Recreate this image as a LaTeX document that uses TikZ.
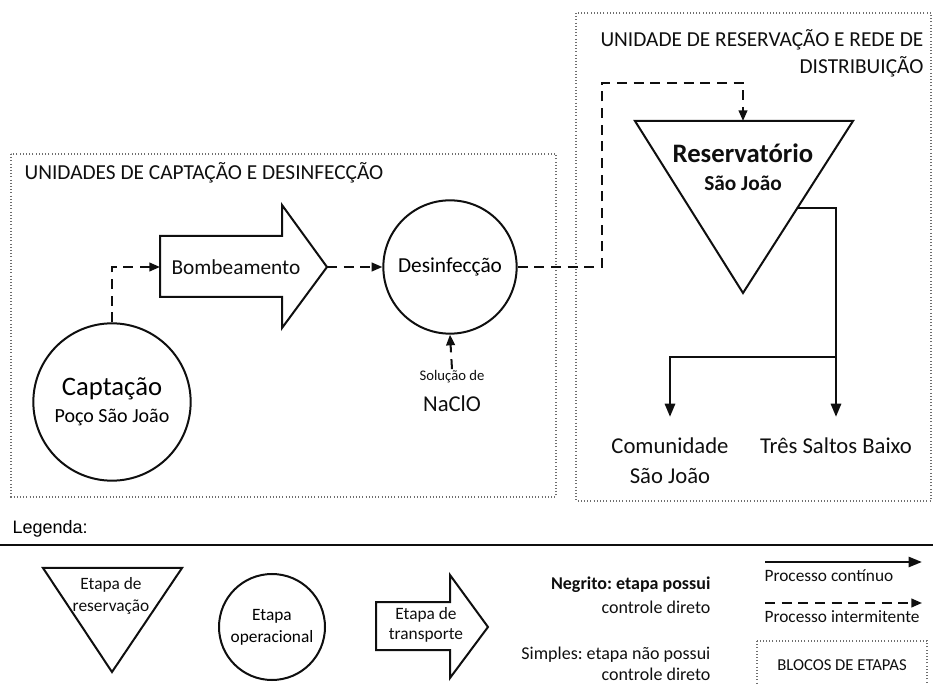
\documentclass[tikz,border=0pt]{standalone}
\usepackage{fontspec}
\setmainfont{Carlito}
\newfontfamily\arialfont{Liberation Sans}
\usepackage{tikz}
\usetikzlibrary{positioning, arrows.meta, calc}
\frenchspacing
\definecolor{traco}{RGB}{15, 15, 15}
\definecolor{pontilhado}{RGB}{110, 110, 110}
\tikzset{
    oper/.style={draw=traco, circle, line width=1.5pt, inner sep=0pt, align=center},
    rotulo/.style={inner sep=1pt, align=center, text=traco},
    forma/.style={draw=traco, line width=1.5pt, line join=miter},
    bloco/.style={draw=pontilhado, line width=0.8pt, dash pattern=on 0.8pt off 1.6pt},
    cont/.style={-{Triangle[length=10pt, width=7.5pt]}, draw=traco, line width=2.2pt},
    interm/.style={-{Triangle[length=8pt, width=6.5pt]}, draw=traco, line width=1.5pt, dash pattern=on 7.5pt off 5pt},
}
\begin{document}
\begin{tikzpicture}[x=0.75pt, y=-0.75pt]
        \useasboundingbox (0,0) rectangle (933,684);

        % blocos de etapas
        \draw[bloco] (11,154) rectangle (556,497);
        \draw[bloco] (576,13) rectangle (931,501);
        \node[rotulo, anchor=west, font=\fontsize{16}{20}\selectfont] (tit1) at (23,173) {UNIDADES DE CAPTAÇÃO E DESINFECÇÃO};
        \node[rotulo, anchor=east, align=right, font=\fontsize{16}{20}\selectfont] (tit2) at (925,53) {UNIDADE DE RESERVAÇÃO E REDE DE\\DISTRIBUIÇÃO};

        % captacao e bombeamento
        \node[oper, minimum size=118pt] (capt) at (112,402) {\fontsize{20}{24}\selectfont Captação\\[6pt]\fontsize{15}{18}\selectfont Poço São João};
        \coordinate (bomb-cauda) at (160,267);
        \coordinate (bomb-ponta) at (327,267);
        \draw[forma] (160,236) -- (282,236) -- (282,205) -- (bomb-ponta) -- (282,328) -- (282,297) -- (160,297) -- cycle;
        \node[rotulo, font=\fontsize{16}{19}\selectfont] (bomb) at (236,267) {Bombeamento};

        % desinfeccao
        \node[oper, minimum size=100pt, font=\fontsize{16}{19}\selectfont] (desinf) at (450,267) {Desinfecção};
        \node[rotulo, font=\fontsize{11}{13}\selectfont] (solucao) at (452,377) {Solução de};
        \node[rotulo, font=\fontsize{17}{20}\selectfont] (naclo) at (452,404) {NaClO};

        % reservatorio
        \coordinate (res-e) at (635,121);
        \coordinate (res-d) at (853,121);
        \coordinate (res-v) at (743,293);
        \coordinate (res-topo) at (743,121);
        \draw[forma] (res-e) -- (res-d) -- (res-v) -- cycle;
        \node[rotulo, font=\bfseries\fontsize{20}{24}\selectfont] (res) at (743,153) {Reservatório};
        \node[rotulo, font=\bfseries\fontsize{16}{19}\selectfont] (res-sj) at (743,183) {São João};

        % rede de distribuicao
        \coordinate (res-saida) at ($(res-d)!0.506!(res-v)$);
        \coordinate (ramal) at (836,357);
        \coordinate (com-ent) at (670,417);
        \coordinate (tres-ent) at (836,417);
        \node[rotulo, below=14pt of com-ent, font=\fontsize{17}{22.5}\selectfont] (com) {Comunidade\\São João};
        \node[rotulo, below=14pt of tres-ent, font=\fontsize{17}{20}\selectfont] (tres) {Três Saltos Baixo};

        \draw[cont] (res-saida) -| (tres-ent);
        \draw[cont] (ramal) -| (com-ent);

        \coordinate (curva) at (602,83);
        \draw[interm] (capt.north) |- (bomb-cauda);
        \draw[interm] (bomb-ponta) -- (desinf.west);
        \draw[interm] (solucao.north) -- (desinf.south);
        \draw[interm] (desinf.east) -| (curva) -| (res-topo);

        % legenda
        \node[anchor=west, inner sep=1pt, font=\arialfont\fontsize{13.5}{16}\selectfont] (leg) at (11,529) {Legenda:};
        \coordinate (linha-e) at (0,545);
        \coordinate (linha-d) at (933,545);
        \draw[draw=traco, line width=1.1pt] (linha-e) -- (linha-d);

        \draw[forma] (43,568) -- (182,568) -- (112,672) -- cycle;
        \node[rotulo, font=\fontsize{13}{16.5}\selectfont] (leg-res) at (111,596) {Etapa de\\reservação};
        \node[oper, minimum size=79.5pt, font=\fontsize{13}{16.5}\selectfont] (leg-oper) at (272,627) {Etapa\\operacional};
        \draw[forma] (376,602) -- (450,602) -- (450,575) -- (488,627) -- (450,678) -- (450,650) -- (376,650) -- cycle;
        \node[rotulo, font=\fontsize{13}{15}\selectfont] (leg-transp) at (426,625) {Etapa de\\transporte};

        \node[rotulo, anchor=east, align=right, font=\fontsize{13.5}{18}\selectfont] (negrito) at (712,595) {\bfseries Negrito: etapa possui\\controle direto};
        \node[rotulo, anchor=east, align=right, font=\fontsize{13.5}{15.5}\selectfont] (simples) at (712,664) {Simples: etapa não possui\\controle direto};

        \coordinate (cont-a) at (765,562);
        \coordinate (cont-b) at (922,562);
        \draw[cont, line width=1.8pt] (cont-a) -- (cont-b);
        \node[rotulo, anchor=west, font=\fontsize{13}{15}\selectfont] (leg-cont) at (763,576) {Processo contínuo};
        \coordinate (int-a) at (765,603);
        \coordinate (int-b) at (922,603);
        \draw[interm] (int-a) -- (int-b);
        \node[rotulo, anchor=west, font=\fontsize{13}{15}\selectfont] (leg-int) at (763,617) {Processo intermitente};
        \draw[bloco] (757,641) rectangle (927,700);
        \node[rotulo, font=\fontsize{12.5}{15}\selectfont] (leg-bloco) at (842,665) {BLOCOS DE ETAPAS};
\end{tikzpicture}
\end{document}
